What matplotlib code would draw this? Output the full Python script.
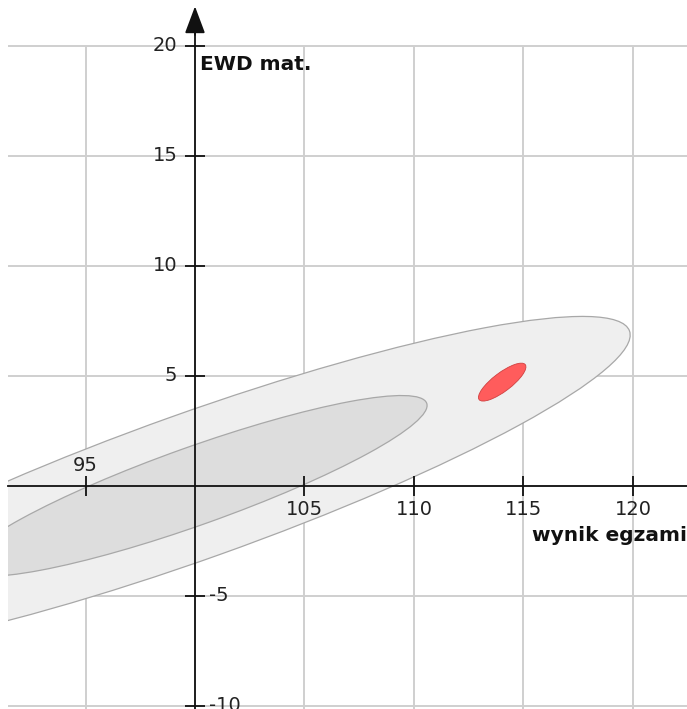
import numpy as np
import matplotlib
matplotlib.use("Agg")
import matplotlib.pyplot as plt
from matplotlib.patches import Ellipse

# ---- data ----
x_ticks = [95, 105, 110, 115, 120]
x_tick_labels = ["95", "105", "110", "115", "120"]
y_ticks = [-10, -5, 5, 10, 15, 20]
y_tick_labels = ["-10", "-5", "5", "10", "15", "20"]
grid_x = [95, 100, 105, 110, 115, 120]
grid_y = [-10, -5, 0, 5, 10, 15, 20]

# population distribution (gray ellipses)
pop_center = (100.0, 0.0)
pop_sd_x = 10.6
pop_sd_y = 4.11
pop_rho = 0.89
pop_levels = [1.875, 1.0]          # outer, inner
pop_colors = ["#efefef", "#dddddd"]

# school result (red ellipse)
school_center = (114.03, 4.72)
school_width = 2.64
school_height = 0.84
school_angle = 37.0

x_label = "EWD mat."
x_axis_label = "wynik egzaminu"

xlim = (91.46, 122.47)
ylim = (-10.14, 22.09)

fig = plt.figure(figsize=(6.87, 7.09), dpi=100)
ax = fig.add_axes([8 / 687, 0, 679 / 687, 1])
ax.set_xlim(*xlim)
ax.set_ylim(*ylim)

# grid
ax.vlines(grid_x, ylim[0], 20, colors="#cfcfcf", lw=1.4, zorder=0)
ax.hlines(grid_y, xlim[0], xlim[1], colors="#cfcfcf", lw=1.4, zorder=0)

# gray ellipses from covariance
cov = np.array([[pop_sd_x ** 2, pop_rho * pop_sd_x * pop_sd_y],
                [pop_rho * pop_sd_x * pop_sd_y, pop_sd_y ** 2]])
vals, vecs = np.linalg.eigh(cov)
order = vals.argsort()[::-1]
vals, vecs = vals[order], vecs[:, order]
angle = np.degrees(np.arctan2(vecs[1, 0], vecs[0, 0]))
for lev, col in zip(pop_levels, pop_colors):
    e = Ellipse(pop_center, 2 * lev * np.sqrt(vals[0]), 2 * lev * np.sqrt(vals[1]),
                angle=angle, facecolor=col, edgecolor="#a8a8a8", lw=0.9, zorder=1)
    ax.add_patch(e)

red = Ellipse(school_center, school_width, school_height, angle=school_angle,
              facecolor="#ff5c5c", edgecolor="#d04040", lw=0.6, zorder=2)
ax.add_patch(red)

# axes through origin
for s in ["top", "right"]:
    ax.spines[s].set_visible(False)
ax.spines["left"].set_position(("data", 100))
ax.spines["bottom"].set_position(("data", 0))
ax.spines["left"].set_bounds(ylim[0], 21.0)
for s in ["left", "bottom"]:
    ax.spines[s].set_linewidth(1.3)
    ax.spines[s].set_color("#111111")
    ax.spines[s].set_zorder(3)

ax.annotate("", xy=(100, 21.8), xytext=(100, 20.5),
            arrowprops=dict(arrowstyle="-|>,head_length=1.2,head_width=0.45",
                            color="#111111", lw=1.3, mutation_scale=14,
                            shrinkA=0, shrinkB=0), zorder=4)

ax.set_xticks(x_ticks)
ax.set_yticks(y_ticks)
ax.set_xticklabels([])
ax.set_yticklabels([])
ax.tick_params(direction="inout", length=15, width=1.3, color="#111111")

fs = 14
for v, lab in zip(x_ticks, x_tick_labels):
    if v < 100:
        ax.text(v, 0.5, lab, ha="center", va="bottom", fontsize=fs, color="#222222")
    else:
        ax.text(v, -0.65, lab, ha="center", va="top", fontsize=fs, color="#222222")
for v, lab in zip(y_ticks, y_tick_labels):
    if v > 0:
        ax.text(99.2, v, lab, ha="right", va="center", fontsize=fs, color="#222222")
    else:
        ax.text(100.65, v, lab, ha="left", va="center", fontsize=fs, color="#222222")

ax.text(100.25, 19.15, x_label, ha="left", va="center", fontsize=14.5,
        fontweight="bold", color="#111111")
ax.text(115.41, -2.27, x_axis_label, ha="left", va="center", fontsize=14.5,
        fontweight="bold", color="#111111", clip_on=False)

fig.savefig("out.png", dpi=100)
